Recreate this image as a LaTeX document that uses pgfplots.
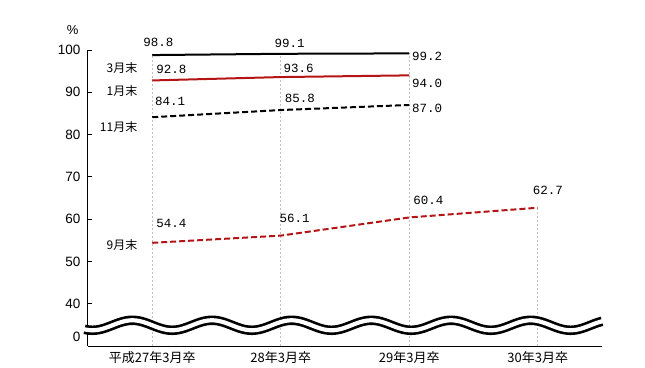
\documentclass[border=0pt]{standalone}
\usepackage{fontspec}
\setmainfont{Liberation Sans}
\newfontfamily\jp{Noto Sans CJK JP}
\newfontfamily\mono{Liberation Mono}
\usepackage{pgfplots}
\pgfplotsset{compat=1.18}
\definecolor{dred}{RGB}{180,20,20}
\begin{document}
\begin{tikzpicture}
\useasboundingbox (-88bp,-22bp) rectangle (557bp,346bp);
\begin{axis}[
  scale only axis,
  width=514bp, height=296bp,
  xmin=-0.5, xmax=3.5, ymin=30, ymax=100,
  axis x line*=bottom, axis y line*=left,
  axis line style={line width=1bp, black},
  clip=false,
  xtick={0,1,2,3},
  xticklabels={平成27年3月卒,28年3月卒,29年3月卒,30年3月卒},
  x tick label style={font=\jp\fontsize{13bp}{15bp}\selectfont, yshift=-2bp},
  xtick style={draw=none},
  ytick={40,50,60,70,80,90,100},
  extra y ticks={32.13}, extra y tick labels={0},
  extra y tick style={tick style={draw=none}},
  y tick label style={font=\fontsize{13.5bp}{15bp}\selectfont, xshift=-4bp},
  /pgf/number format/assume math mode=true,
  tick align=inside,
  major tick length=4bp,
  ytick style={black, line width=0.8bp},
]
% drop lines
\addplot[gray!50, dash pattern=on 2bp off 2bp, line width=0.6bp] coordinates {(0,30) (0,98.8)};
\addplot[gray!50, dash pattern=on 2bp off 2bp, line width=0.6bp] coordinates {(1,30) (1,99.1)};
\addplot[gray!50, dash pattern=on 2bp off 2bp, line width=0.6bp] coordinates {(2,30) (2,99.2)};
\addplot[gray!50, dash pattern=on 2bp off 2bp, line width=0.6bp] coordinates {(3,30) (3,62.7)};
% wave break
\draw[line width=9.5bp, black] plot[domain=-0.527:3.504, samples=260, smooth] (\x, {34.9 - 1.18*cos(deg(2*pi*(\x+0.465)/0.62))});
\draw[line width=4.2bp, white] plot[domain=-0.54:3.52, samples=260, smooth] (\x, {34.9 - 1.18*cos(deg(2*pi*(\x+0.465)/0.62))});
% 3月末
\addplot[black, line width=2bp] coordinates {(0,98.8) (1,99.1) (2,99.2)};
% 1月末
\addplot[dred, line width=2bp] coordinates {(0,92.8) (1,93.6) (2,94.0)};
% 11月末
\addplot[black, line width=2bp, dash pattern=on 6bp off 3bp] coordinates {(0,84.1) (1,85.8) (2,87.0)};
% 9月末
\addplot[dred, line width=2bp, dash pattern=on 6bp off 3bp] coordinates {(0,54.4) (1,56.1) (2,60.4) (3,62.7)};
% value labels
\begin{scope}[every node/.style={font=\mono\fontsize{12.5bp}{14bp}\selectfont, anchor=west, inner sep=0pt}]
\node at (axis cs:-0.07,101.7) {98.8};
\node at (axis cs:0.95,101.5) {99.1};
\node at (axis cs:2.02,98.5) {99.2};
\node at (axis cs:0.03,95.4) {92.8};
\node at (axis cs:1.02,95.6) {93.6};
\node at (axis cs:2.02,92.2) {94.0};
\node at (axis cs:0.02,87.9) {84.1};
\node at (axis cs:1.03,88.6) {85.8};
\node at (axis cs:2.02,86.2) {87.0};
\node at (axis cs:0.03,59.0) {54.4};
\node at (axis cs:0.99,60.2) {56.1};
\node at (axis cs:2.03,64.4) {60.4};
\node at (axis cs:2.96,66.8) {62.7};
\end{scope}
% series names
\begin{scope}[every node/.style={font=\jp\fontsize{12bp}{14bp}\selectfont, anchor=east, inner sep=0pt}]
\node at (axis cs:-0.115,95.8) {3月末};
\node at (axis cs:-0.115,90.2) {1月末};
\node at (axis cs:-0.115,81.9) {11月末};
\node at (axis cs:-0.115,54.0) {9月末};
\end{scope}
\node[font=\fontsize{13bp}{15bp}\selectfont, inner sep=0pt] at (axis cs:-0.62,104.7) {\%};
\end{axis}
\end{tikzpicture}
\end{document}
